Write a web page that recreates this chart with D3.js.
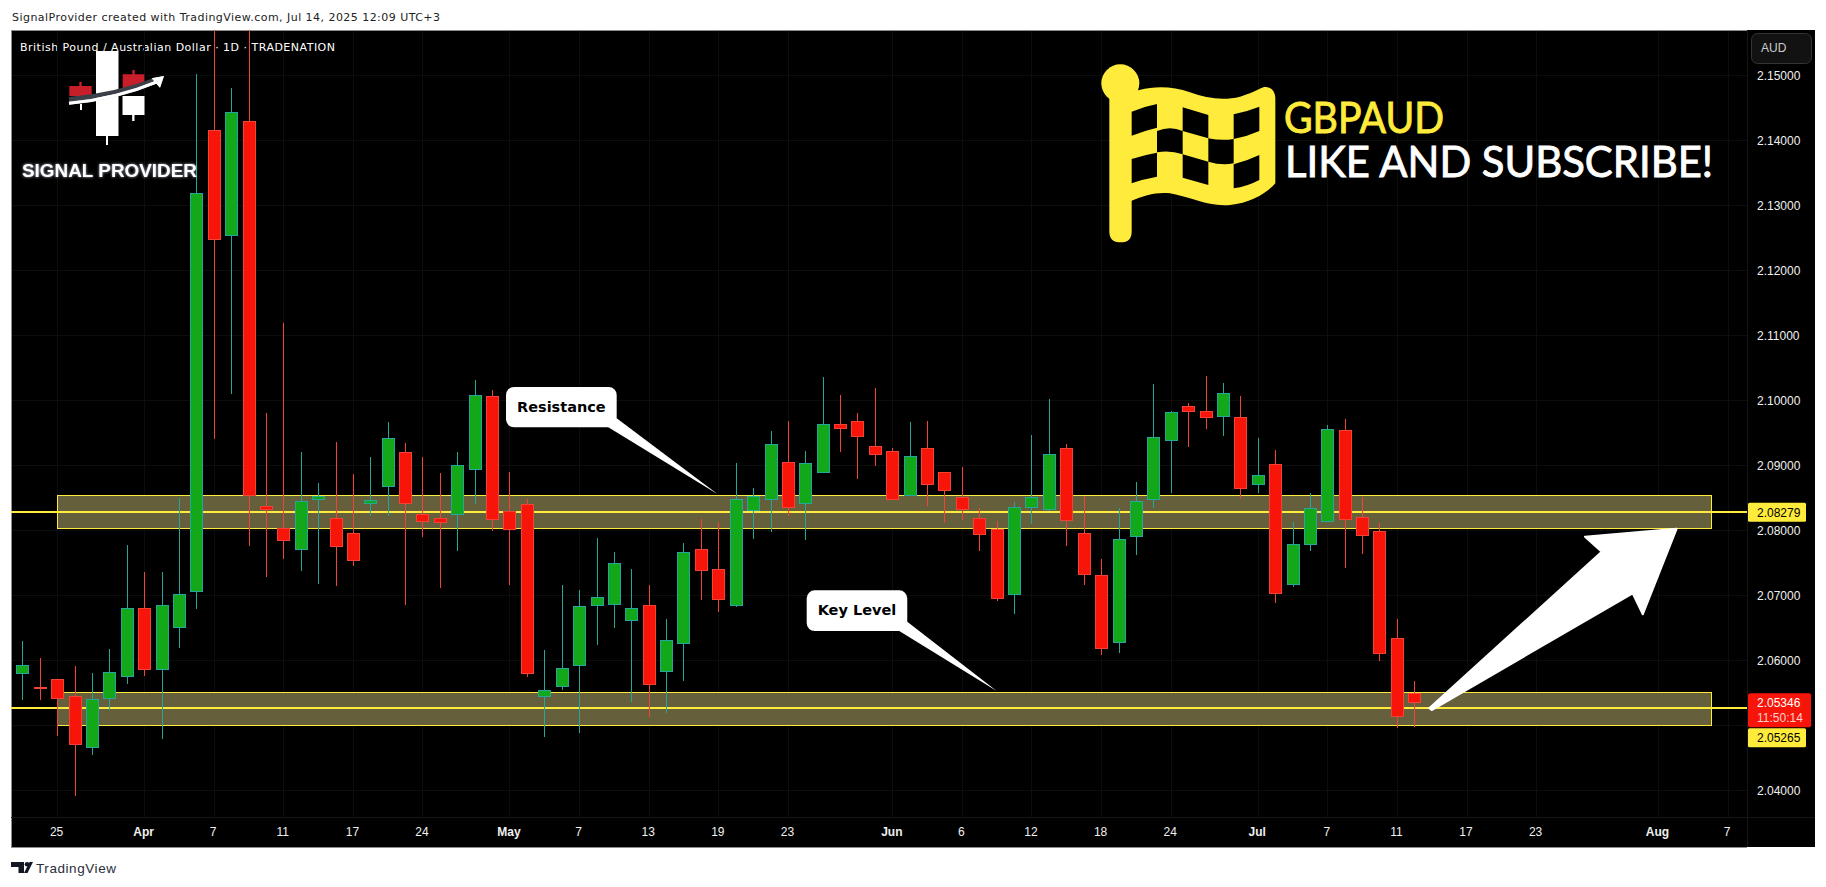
<!DOCTYPE html>
<html><head><meta charset="utf-8">
<style>html,body{margin:0;padding:0;background:#fff;overflow:hidden}svg{display:block}text{font-family:"Liberation Sans",sans-serif}</style>
<script src="https://cdn.jsdelivr.net/npm/d3@7/dist/d3.min.js"></script>
</head><body><svg id="c" width="1826" height="887"></svg>
<script>
const opens=[2.05794,2.05594,2.05708,2.05446,2.04655,2.05409,2.05748,2.06800,2.05855,2.06502,2.07055,2.14154,2.12538,2.14292,2.08369,2.08031,2.07708,2.08486,2.08185,2.07954,2.08415,2.08677,2.09200,2.08255,2.08185,2.08246,2.08938,2.10062,2.08292,2.08400,2.05446,2.05600,2.05923,2.06846,2.06862,2.06615,2.06846,2.05831,2.06262,2.07708,2.07400,2.06846,2.08308,2.08477,2.09046,2.08415,2.08892,2.09631,2.09677,2.09292,2.09215,2.08538,2.09262,2.08892,2.08508,2.08185,2.08015,2.07015,2.08354,2.08323,2.09262,2.07954,2.07308,2.06277,2.07908,2.08477,2.09385,2.09908,2.09831,2.09754,2.09738,2.08708,2.09015,2.07169,2.07785,2.08138,2.09538,2.08200,2.07985,2.06338,2.05492];
const closes=[2.05923,2.05590,2.05409,2.04702,2.05400,2.05815,2.06800,2.05855,2.06846,2.07015,2.13185,2.12477,2.14431,2.08538,2.08323,2.07840,2.08446,2.08528,2.07748,2.07532,2.08462,2.09415,2.08415,2.08148,2.08117,2.09000,2.10077,2.08169,2.08015,2.05800,2.05538,2.05877,2.06831,2.06969,2.07492,2.06800,2.05631,2.06308,2.07662,2.07385,2.06938,2.08477,2.08523,2.09323,2.08354,2.09031,2.09631,2.09569,2.09446,2.09169,2.08482,2.09138,2.08708,2.08615,2.08323,2.07938,2.06948,2.08354,2.08508,2.09169,2.08154,2.07323,2.06185,2.07862,2.08446,2.09431,2.09815,2.09831,2.09738,2.10108,2.08646,2.08846,2.07031,2.07785,2.08338,2.09554,2.08169,2.07923,2.06108,2.05138,2.05346];
const highs=[2.06297,2.06035,2.05708,2.05912,2.05805,2.06174,2.07774,2.07358,2.07358,2.08497,2.15020,2.15851,2.14800,2.15851,2.09800,2.11189,2.09200,2.08728,2.09358,2.08866,2.09128,2.09666,2.09343,2.09128,2.08882,2.09205,2.10312,2.10158,2.08897,2.08477,2.06158,2.07158,2.07082,2.07882,2.07666,2.07405,2.07158,2.06635,2.07805,2.08174,2.08128,2.09035,2.08651,2.09528,2.09682,2.09220,2.10358,2.10082,2.09805,2.10189,2.09266,2.09666,2.09682,2.08892,2.08974,2.08338,2.08138,2.08431,2.09466,2.10020,2.09328,2.08532,2.07558,2.08338,2.08743,2.10251,2.09835,2.09958,2.10374,2.10266,2.10066,2.09415,2.09235,2.08128,2.08569,2.09620,2.09712,2.08508,2.08108,2.06635,2.05682];
const lows=[2.05394,2.05394,2.04840,2.03912,2.04548,2.05240,2.05635,2.05758,2.04789,2.06189,2.06789,2.09409,2.10102,2.07763,2.07286,2.07563,2.07378,2.07178,2.07148,2.07455,2.08225,2.08225,2.06855,2.07902,2.07112,2.07686,2.08409,2.07994,2.07163,2.05738,2.04825,2.05548,2.04877,2.06240,2.06502,2.05363,2.05132,2.05194,2.05686,2.06932,2.06748,2.06825,2.07866,2.07974,2.08225,2.07851,2.08892,2.09205,2.08794,2.08994,2.08482,2.08538,2.08378,2.08117,2.08163,2.07686,2.06917,2.06717,2.08102,2.08302,2.07763,2.07163,2.06086,2.06117,2.07625,2.08348,2.08578,2.09286,2.09563,2.09455,2.08486,2.08578,2.06886,2.07132,2.07686,2.08138,2.07425,2.07640,2.05994,2.04963,2.04978];
const gridPrices=[2.04,2.05,2.06,2.07,2.08,2.09,2.10,2.11,2.12,2.13,2.14,2.15];
const priceTicks=[2.04,2.06,2.07,2.08,2.09,2.10,2.11,2.12,2.13,2.14,2.15];
const timeTicks=[2,7,11,15,19,23,28,32,36,40,44,50,54,58,62,66,71,75,79,83,87,94,98];
const timeLabels=["25","Apr","7","11","17","24","May","7","13","19","23","Jun","6","12","18","24","Jul","7","11","17","23","Aug","7"];
const monthLabels=["Apr","May","Jun","Jul","Aug"];
const zones=[{top:2.08538,bottom:2.08031,level:2.08279},{top:2.05508,bottom:2.05000,level:2.05265}];
const zoneBars=[2,97.03];
const lastPrice=2.05346, countdown="11:50:14";
const arrowPts=[[80.86,2.05262],[90.77,2.07671],[89.81,2.07902],[95.08,2.08025],[93.13,2.06708],[92.55,2.07031],[81.0,2.05235]];
const callouts=[
 {text:"Resistance",box:[27.80,34.16,2.10205,2.09585],tail:[[34.16,2.09723],[39.97,2.08554],[33.68,2.09585]]},
 {text:"Key Level",box:[45.08,50.86,2.07077,2.06451],tail:[[50.86,2.06594],[56.0,2.05528],[50.40,2.06451]]}
];
const titleText="SignalProvider created with TradingView.com, Jul 14, 2025 12:09 UTC+3";
const legendText="British Pound / Australian Dollar · 1D · TRADENATION";

const UP="#12a81a",UPL="#26a69a",DN="#f7150a",DNL="#f44336",YEL="#ffeb3b";
const svg=d3.select("#c");
const x=d3.scaleLinear().domain([0,80]).range([22.3,1414.3]);
const y=d3.scaleLinear().domain([2.04,2.15]).range([790.3,75.3]);
const px=v=>Math.round(v)+.5;
const defs=svg.append("defs");
defs.append("clipPath").attr("id","plot").append("rect").attr("x",11).attr("y",30).attr("width",1736).attr("height",788);
const glow=defs.append("filter").attr("id","glow").attr("x","-20%").attr("y","-20%").attr("width","140%").attr("height","140%");
glow.append("feGaussianBlur").attr("in","SourceAlpha").attr("stdDeviation",1.6).attr("result","b");
glow.append("feFlood").attr("flood-color","#b8c8d8").attr("flood-opacity",.9);
glow.append("feComposite").attr("in2","b").attr("operator","in").attr("result","g");
const gm=glow.append("feMerge");gm.append("feMergeNode").attr("in","g");gm.append("feMergeNode").attr("in","SourceGraphic");

svg.append("rect").attr("x",11).attr("y",30).attr("width",1804).attr("height",817).attr("fill","#000");
// grid
const grid=svg.append("g").attr("shape-rendering","crispEdges").attr("stroke","#0d0d0d");
grid.selectAll(".gv").data(timeTicks).join("line").attr("x1",d=>px(x(d))).attr("x2",d=>px(x(d))).attr("y1",30).attr("y2",818);
grid.selectAll(".gh").data(gridPrices).join("line").attr("y1",d=>px(y(d))).attr("y2",d=>px(y(d))).attr("x1",11).attr("x2",1747);
// frame
const fr=svg.append("g").attr("shape-rendering","crispEdges").attr("stroke","#8c8c8c");
fr.append("line").attr("x1",11.5).attr("x2",11.5).attr("y1",30).attr("y2",847.5);
fr.append("line").attr("x1",11).attr("x2",1747).attr("y1",30.5).attr("y2",30.5);
fr.append("line").attr("x1",11).attr("x2",1747).attr("y1",847.5).attr("y2",847.5);
const sep=svg.append("g").attr("shape-rendering","crispEdges").attr("stroke","#161616");
sep.append("line").attr("x1",1747.5).attr("x2",1747.5).attr("y1",30).attr("y2",847);
sep.append("line").attr("x1",11).attr("x2",1815).attr("y1",817.5).attr("y2",817.5);

const plot=svg.append("g").attr("clip-path","url(#plot)");
// zones
const zg=plot.append("g").attr("shape-rendering","crispEdges");
zg.selectAll("rect").data(zones).join("rect")
 .attr("x",px(x(zoneBars[0]))).attr("width",x(zoneBars[1])-x(zoneBars[0]))
 .attr("y",d=>px(y(d.top))).attr("height",d=>Math.round(y(d.bottom)-y(d.top)))
 .attr("fill","#655f3c").attr("stroke",YEL).attr("stroke-width",1);
zg.selectAll("line").data(zones).join("line").attr("x1",11).attr("x2",1747)
 .attr("y1",d=>Math.round(y(d.level))).attr("y2",d=>Math.round(y(d.level))).attr("stroke",YEL).attr("stroke-width",2);
// candles
const idx=d3.range(opens.length);
const cg=plot.append("g").attr("shape-rendering","crispEdges");
cg.selectAll(".w").data(idx).join("line")
 .attr("x1",i=>px(x(i))).attr("x2",i=>px(x(i))).attr("y1",i=>y(highs[i])).attr("y2",i=>y(lows[i]))
 .attr("stroke",i=>closes[i]>=opens[i]?UPL:DNL).attr("stroke-width",1);
cg.selectAll(".b").data(idx).join("rect")
 .attr("x",i=>px(x(i))-6).attr("width",12)
 .attr("y",i=>Math.round(y(Math.max(opens[i],closes[i])))+.5)
 .attr("height",i=>Math.max(1,Math.round(Math.abs(y(opens[i])-y(closes[i])))))
 .attr("fill",i=>closes[i]>=opens[i]?UP:DN).attr("stroke",i=>closes[i]>=opens[i]?UPL:DNL).attr("stroke-width",1);
// arrow
const arrowLine=d3.line().x(d=>x(d[0])).y(d=>y(d[1]));
svg.append("path").attr("d",arrowLine(arrowPts)+"Z").attr("fill","#fff").attr("stroke","#fff").attr("stroke-width",2).attr("stroke-linejoin","round");
// callouts
const cog=svg.append("g");
callouts.forEach(c=>{
 const [a,b,t,u]=c.box;
 cog.append("rect").attr("x",x(a)).attr("y",y(t)).attr("width",x(b)-x(a)).attr("height",y(u)-y(t)).attr("rx",8).attr("fill","#fff");
 cog.append("path").attr("d",arrowLine(c.tail)+"Z").attr("fill","#fff");
 cog.append("text").attr("x",(x(a)+x(b))/2).attr("y",(y(t)+y(u))/2-.5).attr("text-anchor","middle").attr("dominant-baseline","central")
  .style("font-family","'DejaVu Sans'").style("font-weight","700").style("font-size","14.5px").attr("fill","#000").text(c.text);
});
// flag
const fl=svg.append("g").attr("transform","translate(1090,55) scale(.33333)");
fl.append("circle").attr("cx",91).attr("cy",85).attr("r",57).attr("fill",YEL);
fl.append("path").attr("fill",YEL).attr("d","M58 120 L148 105 C200 92 250 95 300 112 C350 130 400 138 450 125 C480 117 500 105 520 97 C540 92 556 108 556 130 L556 385 C530 415 480 445 420 450 C350 455 300 425 240 415 C200 410 160 422 125 437 L125 530 Q125 562 92 562 Q58 562 58 530 Z");
fl.append("path").attr("fill","#000").attr("d","M125 170 Q160 155 201 147 L201 218 Q160 228 125 242Z M278 157 L355 180 L355 250 L278 228Z M431 178 Q470 170 508 155 L508 228 Q470 245 431 252Z M201 228 Q240 212 278 228 L278 298 Q240 285 201 292Z M355 250 Q395 258 431 252 L431 325 Q395 332 355 320Z M125 312 Q160 300 201 293 L201 365 Q160 372 125 385Z M278 298 L355 320 L355 390 L278 368Z M431 328 Q470 318 508 300 L508 375 Q470 395 431 400Z");
svg.append("text").attr("x",1284).attr("y",132.7).attr("textLength",160).attr("lengthAdjust","spacingAndGlyphs").style("font-family","Lato").style("font-weight","400").style("font-size","42px").attr("fill",YEL).attr("stroke",YEL).attr("stroke-width",.9).text("GBPAUD");
svg.append("text").attr("x",1285).attr("y",176.7).attr("textLength",428).attr("lengthAdjust","spacingAndGlyphs").style("font-family","Lato").style("font-weight","400").style("font-size","42px").attr("fill","#fff").attr("stroke","#fff").attr("stroke-width",.9).text("LIKE AND SUBSCRIBE!");
// logo
const lg=svg.append("g").attr("transform","translate(50,40) scale(.33333)");
const lw=lg.append("g").attr("filter","url(#glow)");
lw.append("path").attr("fill","#fff").attr("d","M138 33H205V288H174V315H168V288H138Z M218 168H283V225H253V243H247V225H218Z M90 192H96V210H90Z");
lg.append("path").attr("fill","#c81e2a").attr("d","M58 138H88V125H95V138H125V168H58Z M218 103H247V90H254V103H283V135L218 148Z");
lg.append("path").attr("fill","none").attr("stroke","#3a3f48").attr("stroke-width",14).attr("d","M57 178 Q200 165 320 118");
const lw2=lg.append("g").attr("filter","url(#glow)");
lw2.append("path").attr("fill","none").attr("stroke","#fff").attr("stroke-width",9).attr("d","M57 190 Q200 176 325 124");
lw2.append("path").attr("fill","#fff").attr("d","M342 108 L305 115 L330 143Z");
svg.append("text").attr("x",22).attr("y",177).attr("textLength",175).attr("lengthAdjust","spacingAndGlyphs").attr("filter","url(#glow)").style("font-weight","700").style("font-size","18.5px").attr("fill","#fff").text("SIGNAL PROVIDER");
// texts
svg.append("text").attr("x",12).attr("y",21).attr("textLength",428).style("font-family","'DejaVu Sans'").style("font-size","11px").attr("fill","#222").text(titleText);
svg.insert("text","g").attr("x",20).attr("y",51).attr("textLength",315).style("font-family","'DejaVu Sans'").style("font-size","11px").attr("fill","#fff").text(legendText);
// axes
const ya=d3.axisRight(y).tickValues(priceTicks).tickSize(0).tickPadding(0).tickFormat(d3.format(".5f"));
const yg=svg.append("g").attr("transform","translate(1757,0)").call(ya);
yg.select(".domain").remove();
yg.selectAll("text").style("font-size","12px").style("font-family","'Liberation Sans'").attr("fill","#f0f0f0");
const xa=d3.axisBottom(x).tickValues(timeTicks).tickSize(0).tickPadding(0).tickFormat((d,i)=>timeLabels[i]);
const xg=svg.append("g").attr("transform","translate(-1,827)").call(xa);
xg.select(".domain").remove();
xg.selectAll("text").style("font-size","12px").style("font-family","'Liberation Sans'").attr("fill","#f0f0f0").style("font-weight",(d,i)=>monthLabels.includes(timeLabels[i])?"700":"400");
// AUD
svg.append("rect").attr("x",1751.5).attr("y",33.5).attr("width",60).attr("height",30).attr("rx",6).attr("fill","#121212").attr("stroke","#333");
svg.append("text").attr("x",1761).attr("y",52).style("font-size","12px").attr("fill","#ccc").text("AUD");
// price labels: the current-price tag stacks above the lower level's tag
const lab=svg.append("g");
const redTop=y(lastPrice)-9.5, redH=34, stackedY=redTop+redH+1;
const labels=[{v:zones[0].level,top:y(zones[0].level)-9.5},{v:zones[1].level,top:stackedY}];
lab.selectAll("rect").data(labels).join("rect").attr("x",1748).attr("width",58).attr("y",d=>d.top).attr("height",19).attr("rx",1.5).attr("fill",YEL);
lab.selectAll("text").data(labels).join("text").attr("x",1757).attr("y",d=>d.top+14).style("font-size","12px").attr("fill","#000").text(d=>d3.format(".5f")(d.v));
lab.append("rect").attr("x",1748).attr("width",63).attr("y",redTop).attr("height",redH).attr("rx",2).attr("fill",DN);
lab.append("text").attr("x",1757).attr("y",y(lastPrice)+4).style("font-size","12px").attr("fill","#fff").text(d3.format(".5f")(lastPrice));
lab.append("text").attr("x",1757).attr("y",y(lastPrice)+19).style("font-size","12px").attr("fill","#ffd0cc").text(countdown);
// TV mark
const tv=svg.append("g").attr("fill","#131722");
tv.append("path").attr("d","M11 862H24V873H18.5V867H11Z");
tv.append("circle").attr("cx",27).attr("cy",864.3).attr("r",2.3);
tv.append("path").attr("d","M24 873L29.5 862H33L27.5 873Z");
svg.append("text").attr("x",36).attr("y",872.5).attr("textLength",80).style("font-size","13.5px").attr("fill","#2a2e39").text("TradingView");
</script></body></html>
